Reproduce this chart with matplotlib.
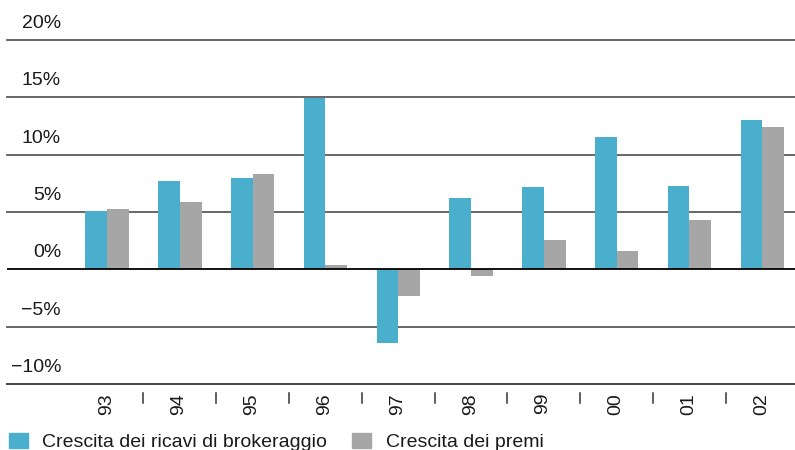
import matplotlib
matplotlib.use("Agg")
import matplotlib.pyplot as plt
import matplotlib.transforms as mtransforms
from matplotlib.patches import Rectangle
import numpy as np

plt.rcParams['font.family'] = ['Liberation Sans', 'DejaVu Sans']

# Annual growth rates (%)
years = ["93", "94", "95", "96", "97", "98", "99", "00", "01", "02"]
brokerage_growth = [5.05, 7.7, 7.95, 14.9, -6.45, 6.2, 7.15, 11.5, 7.25, 13.0]
premium_growth = [5.25, 5.85, 8.3, 0.35, -2.3, -0.6, 2.55, 1.6, 4.3, 12.45]
y_ticks = [-10, -5, 0, 5, 10, 15, 20]
series_labels = ["Crescita dei ricavi di brokeraggio", "Crescita dei premi"]

BLUE = "#4aafcd"
GREY = "#a6a6a6"
TEXT = "#1a1a1a"
FS = 14

W, H = 795, 450
fig = plt.figure(figsize=(W / 100, H / 100), dpi=100)
ax = fig.add_axes([7 / W, (H - 384) / H, 788 / W, 344 / H])

x = np.arange(len(years))
bw = 0.298
ax.bar(x - bw / 2, brokerage_growth, width=bw, color=BLUE, zorder=3)
ax.bar(x + bw / 2, premium_growth, width=bw, color=GREY, zorder=3)

ax.set_xlim(-1.3736, 9.45)
ax.set_ylim(-10, 20)

# horizontal rules
for t in y_ticks:
    if t == 0:
        ax.axhline(t, color="black", lw=1.3, zorder=4)
    elif t == -10:
        ax.axhline(t, color="#444444", lw=1.4, zorder=4, clip_on=False)
    else:
        ax.axhline(t, color="#5a5a5a", lw=1.3, zorder=2, clip_on=False)

for s in ax.spines.values():
    s.set_visible(False)
ax.set_xticks([])
ax.set_yticks([])

# y labels sitting above each rule
lab_tr = mtransforms.offset_copy(
    mtransforms.blended_transform_factory(ax.transAxes, ax.transData),
    fig=fig, x=54, y=12, units="dots")
for t in y_ticks:
    txt = f"{t}%".replace("-", "\u2212")
    ax.text(0, t, txt, transform=lab_tr, ha="right", va="baseline",
            fontsize=FS, color=TEXT)

# category labels and separators below the axis
cat_tr = mtransforms.blended_transform_factory(ax.transData, fig.transFigure)
for i, yr in enumerate(years):
    ax.text(i - 0.01, (H - 393) / H, yr, transform=cat_tr, rotation=90,
            ha="center", va="top", fontsize=FS, color=TEXT, clip_on=False)
for i in range(len(years) - 1):
    ax.plot([i + 0.5, i + 0.5], [(H - 393) / H, (H - 403) / H],
            transform=cat_tr, color="#333333", lw=1.1, clip_on=False)

# legend
legend_items = [(9, BLUE, 42), (352, GREY, 386)]
for (sx, col, tx), lab in zip(legend_items, series_labels):
    fig.patches.append(Rectangle((sx / W, (H - 448) / H), 19 / W, 15 / H,
                                 transform=fig.transFigure, color=col))
    fig.text(tx / W, (H - 447) / H, lab, ha="left", va="baseline",
             fontsize=FS, color=TEXT)

fig.savefig("out.png", dpi=100)
